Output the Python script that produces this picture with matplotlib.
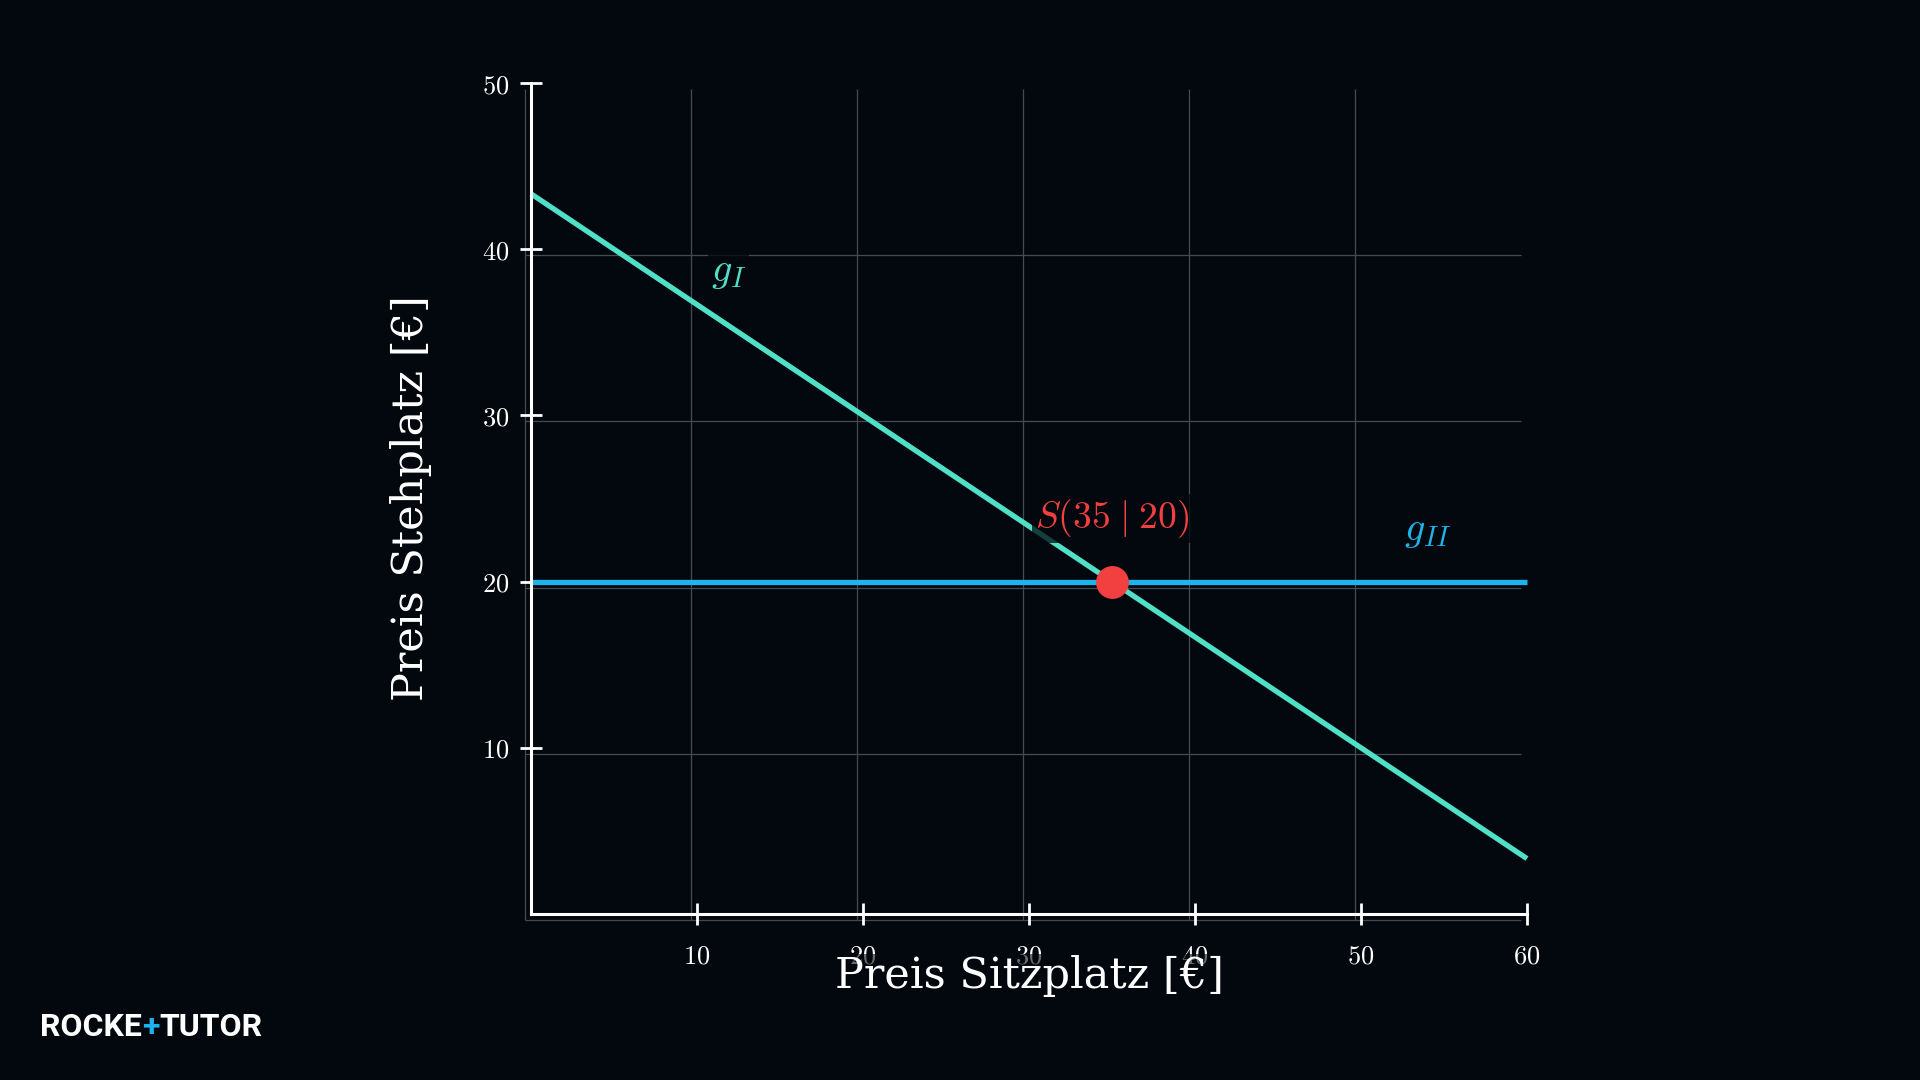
import numpy as np
import matplotlib.pyplot as plt
import matplotlib.transforms as mtransforms

plt.rcParams['mathtext.fontset'] = 'cm'

BG = '#03080e'
TEAL = '#50e0c8'
BLUE = '#1cb4ea'
RED = '#f23f3f'
GRID = '#454b52'

# data
x_ticks = [10, 20, 30, 40, 50, 60]
y_ticks = [10, 20, 30, 40, 50]
grid_x = [0, 10, 20, 30, 40, 50]
grid_y = [0, 10, 20, 30, 40]
x_line = np.array([0, 60])
g1_y = (130 - 2 * x_line) / 3      # 2x + 3y = 130
g2_y = np.array([20, 20])          # y = 20
s_point = (35, 20)
g1_label_pos = (11.9, 38.7)
g2_label_pos = (54.0, 23.1)
s_label_pos = (35.0, 23.8)

fig = plt.figure(figsize=(19.2, 10.8), dpi=100, facecolor=BG)
ax = fig.add_axes([0.2766, 0.1537, 0.5187, 0.7694], facecolor=BG)
ax.set_xlim(0, 60)
ax.set_ylim(0, 50)

# background grid, slightly shifted like the original
grid_tr = mtransforms.offset_copy(ax.transData, fig=fig, x=-6, y=-6, units='dots')
ax.vlines(grid_x, 0, 50, colors=GRID, linewidth=0.9, transform=grid_tr, clip_on=False, zorder=1)
ax.hlines(grid_y, 0, 60, colors=GRID, linewidth=0.9, transform=grid_tr, clip_on=False, zorder=1)

# lines
ax.plot(x_line, g1_y, color=TEAL, linewidth=3.8, solid_capstyle='butt', zorder=3, clip_on=False)
ax.plot(x_line, g2_y, color=BLUE, linewidth=3.8, solid_capstyle='butt', zorder=4, clip_on=False)
ax.scatter([s_point[0]], [s_point[1]], s=560, color=RED, zorder=6, linewidths=0)

box = dict(facecolor=BG, edgecolor='none', alpha=0.75, pad=2)
ax.text(*g1_label_pos, r'$g_I$', color=TEAL, fontsize=29, ha='center', va='center', bbox=box, zorder=5)
ax.text(*g2_label_pos, r'$g_{II}$', color=BLUE, fontsize=29, ha='center', va='center', zorder=5)
ax.text(*s_label_pos, r'$S(35\;|\;20)$', color=RED, fontsize=27, ha='center', va='center', bbox=box, zorder=5)

# axes
for side in ['top', 'right']:
    ax.spines[side].set_visible(False)
for side in ['left', 'bottom']:
    ax.spines[side].set_color('white')
    ax.spines[side].set_linewidth(2.2)
    ax.spines[side].set_zorder(7)
ax.set_xticks(x_ticks)
ax.set_yticks(y_ticks)
ax.set_xticklabels([f'${t}$' for t in x_ticks])
ax.set_yticklabels([f'${t}$' for t in y_ticks])
ax.tick_params(colors='white', labelcolor='white', direction='inout', length=16, width=2, labelsize=19)
ax.tick_params(axis='x', pad=13)
ax.tick_params(axis='y', pad=8)

ax.set_xlabel('Preis Sitzplatz [€]', color='white', fontsize=31, family='DejaVu Serif',
              labelpad=-10, bbox=dict(facecolor=BG, edgecolor='none', alpha=0.6, pad=1))
ax.set_ylabel('Preis Stehplatz [€]', color='white', fontsize=31, family='DejaVu Serif',
              labelpad=36)

# logo
t = fig.text(0.021, 0.041, 'ROCKE', color='white', fontsize=23, fontweight='bold',
             family='Roboto', va='baseline')
a1 = plt.annotate('+', xy=(1, 0), xycoords=t, color=BLUE, fontsize=23, fontweight='bold',
                  family='Roboto', va='bottom', annotation_clip=False)
a2 = plt.annotate('TUTOR', xy=(1, 0), xycoords=a1, color='white', fontsize=23,
                  fontweight='bold', family='Roboto', va='bottom', annotation_clip=False)

fig.savefig('out.png', dpi=100, facecolor=BG)
